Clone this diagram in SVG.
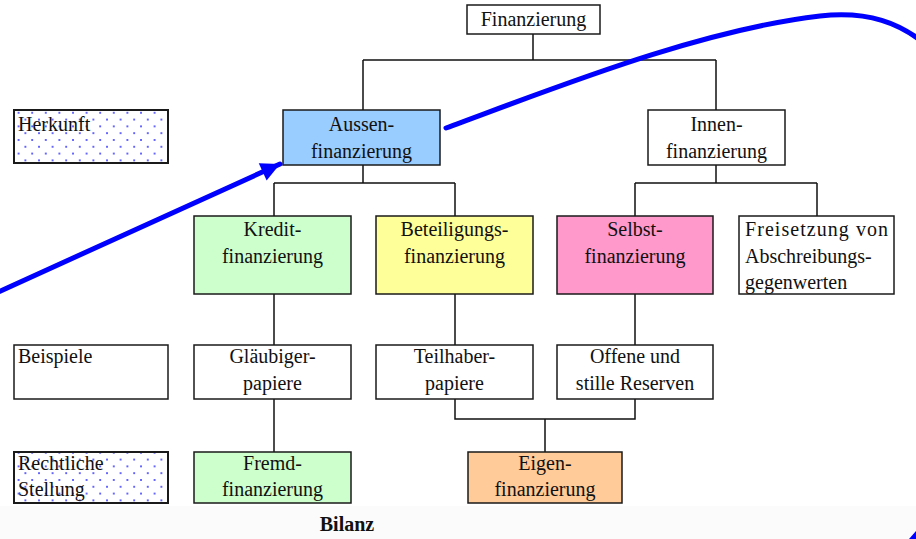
<svg xmlns="http://www.w3.org/2000/svg" width="916" height="539" viewBox="0 0 916 539">
  <style>
    .box { stroke: #1a1a1a; stroke-width: 1.5; }
    .plain { fill: #ffffff; }
    .blue { fill: #99ccff; }
    .green { fill: #ccffcc; }
    .yellow { fill: #ffff99; }
    .pink { fill: #ff99cc; }
    .orange { fill: #ffcc99; }
    .dots { fill: url(#dotted); stroke: #1a1a1a; stroke-width: 2; }
    .lbl { font-size: 20px; fill: #111; text-anchor: middle; }
    .left { text-anchor: start; }
    .wire { fill: none; stroke: #111; stroke-width: 1.5; }
    .pen { fill: none; stroke: #0000ff; stroke-width: 5; stroke-linecap: round; }
  </style>
  <defs>
    <pattern id="dotted" width="13.6" height="13.6" patternUnits="userSpaceOnUse" x="4" y="3">
      <rect width="13.6" height="13.6" fill="#ffffff"/>
      <circle cx="1" cy="1" r="0.9" fill="#2020ff"/>
      <circle cx="7.8" cy="7.8" r="0.9" fill="#2020ff"/>
    </pattern>
    <marker id="head" viewBox="0 0 10 10" refX="10" refY="5" markerWidth="4.6" markerHeight="3.8" orient="auto" markerUnits="strokeWidth">
      <path d="M0,0 L10,5 L0,10 z" fill="#0000ff"/>
    </marker>
  </defs>

  <!-- light footer band -->
  <rect x="0" y="506" width="916" height="33" fill="#fbfbfc"/>

  <g font-family="'Liberation Serif', 'DejaVu Serif', 'Times New Roman', serif">
  <!-- connectors -->
  <g id="connectors">
    <path class="wire" d="M533,34 V60 M363,60 H716 M363,60 V110 M716,60 V110"/>
    <path class="wire" d="M363,165 V183 M274,183 H455 M274,183 V216 M455,183 V216"/>
    <path class="wire" d="M716,165 V183 M635,183 H817 M635,183 V216 M817,183 V216"/>
    <path class="wire" d="M274,294 V345 M455,294 V345 M635,294 V345"/>
    <path class="wire" d="M274,399 V452"/>
    <path class="wire" d="M455,399 V419 H635 V399 M545,419 V452"/>
  </g>

  <!-- top -->
  <g id="finanzierung">
    <rect class="box plain" x="467" y="5" width="133" height="29"/>
    <text class="lbl" x="533.5" y="26">Finanzierung</text>
  </g>

  <!-- row labels -->
  <g id="herkunft">
    <rect class="dots" x="14" y="110" width="154" height="53"/>
    <text class="lbl left" x="18" y="131">Herkunft</text>
  </g>
  <g id="beispiele">
    <rect class="box plain" x="14" y="345" width="154" height="54"/>
    <text class="lbl left" x="18" y="363">Beispiele</text>
  </g>
  <g id="rechtliche-stellung">
    <rect class="dots" x="14" y="452" width="154" height="51"/>
    <text class="lbl left" x="18" y="470">Rechtliche</text>
    <text class="lbl left" x="18" y="496">Stellung</text>
  </g>

  <!-- second level -->
  <g id="aussenfinanzierung">
    <rect class="box blue" x="283" y="110" width="157" height="55"/>
    <text class="lbl" x="361.5" y="131">Aussen-</text>
    <text class="lbl" x="361.5" y="158">finanzierung</text>
  </g>
  <g id="innenfinanzierung">
    <rect class="box plain" x="648" y="110" width="137" height="55"/>
    <text class="lbl" x="716.5" y="131">Innen-</text>
    <text class="lbl" x="716.5" y="158">finanzierung</text>
  </g>

  <!-- third level -->
  <g id="kreditfinanzierung">
    <rect class="box green" x="194" y="216" width="157" height="78"/>
    <text class="lbl" x="272.5" y="236">Kredit-</text>
    <text class="lbl" x="272.5" y="263">finanzierung</text>
  </g>
  <g id="beteiligungsfinanzierung">
    <rect class="box yellow" x="376" y="216" width="157" height="78"/>
    <text class="lbl" x="454.5" y="236">Beteiligungs-</text>
    <text class="lbl" x="454.5" y="263">finanzierung</text>
  </g>
  <g id="selbstfinanzierung">
    <rect class="box pink" x="557" y="216" width="156" height="78"/>
    <text class="lbl" x="635" y="236">Selbst-</text>
    <text class="lbl" x="635" y="263">finanzierung</text>
  </g>
  <g id="freisetzung">
    <rect class="box plain" x="739" y="216" width="155" height="78"/>
    <text class="lbl left" x="745" y="236" textLength="143">Freisetzung von</text>
    <text class="lbl left" x="745" y="263">Abschreibungs-</text>
    <text class="lbl left" x="745" y="289">gegenwerten</text>
  </g>

  <!-- examples -->
  <g id="glaeubigerpapiere">
    <rect class="box plain" x="194" y="345" width="157" height="54"/>
    <text class="lbl" x="272.5" y="363">Gläubiger-</text>
    <text class="lbl" x="272.5" y="390">papiere</text>
  </g>
  <g id="teilhaberpapiere">
    <rect class="box plain" x="376" y="345" width="157" height="54"/>
    <text class="lbl" x="454.5" y="363">Teilhaber-</text>
    <text class="lbl" x="454.5" y="390">papiere</text>
  </g>
  <g id="reserven">
    <rect class="box plain" x="557" y="345" width="156" height="54"/>
    <text class="lbl" x="635" y="363">Offene und</text>
    <text class="lbl" x="635" y="390">stille Reserven</text>
  </g>

  <!-- legal position -->
  <g id="fremdfinanzierung">
    <rect class="box green" x="194" y="452" width="157" height="51"/>
    <text class="lbl" x="272.5" y="470">Fremd-</text>
    <text class="lbl" x="272.5" y="496">finanzierung</text>
  </g>
  <g id="eigenfinanzierung">
    <rect class="box orange" x="468" y="452" width="154" height="51"/>
    <text class="lbl" x="545" y="470">Eigen-</text>
    <text class="lbl" x="545" y="496">finanzierung</text>
  </g>

  <text class="lbl" x="347" y="531" font-weight="bold">Bilanz</text>
  </g>

  <!-- hand-drawn blue pen strokes -->
  <g id="annotations">
    <path class="pen" d="M-4,293 L280,164" marker-end="url(#head)"/>
    <path class="pen" d="M446,128 C560,86 700,30 820,16 C868,11 900,22 930,48"/>
    <path d="M909,539 L916,531 L916,539 z" fill="#0000ff"/>
  </g>
</svg>
